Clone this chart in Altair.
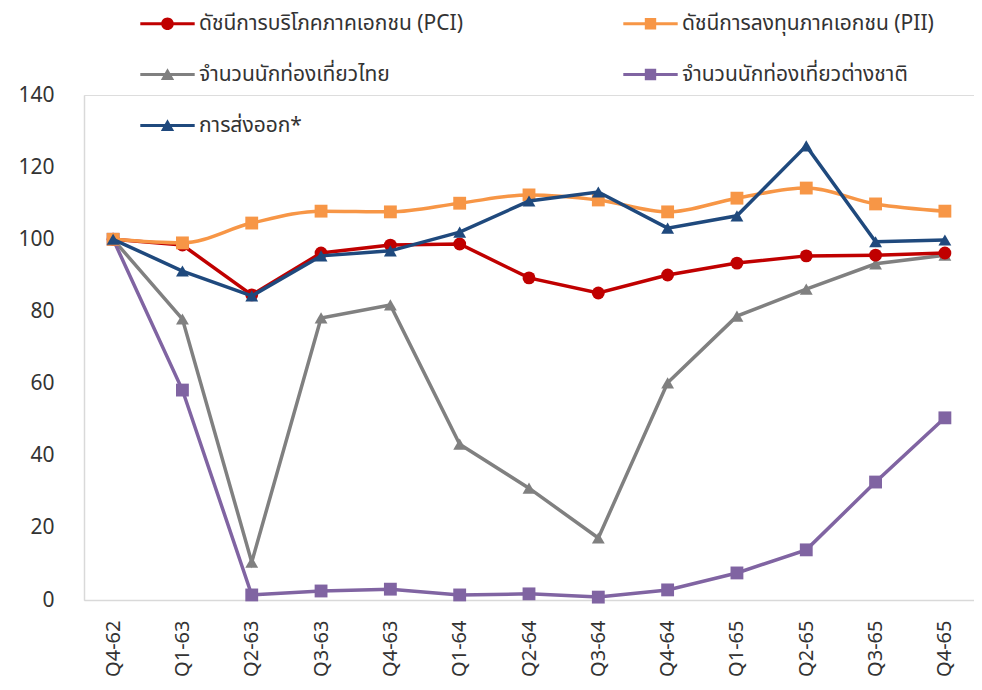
import altair as alt
import pandas as pd

quarters = ["Q4-62", "Q1-63", "Q2-63", "Q3-63", "Q4-63", "Q1-64", "Q2-64",
            "Q3-64", "Q4-64", "Q1-65", "Q2-65", "Q3-65", "Q4-65"]

pci = [100, 98.4, 84.6, 96.2, 98.4, 98.7, 89.3, 85.1, 90.1, 93.4, 95.4, 95.6, 96.2]
pii = [100, 99.0, 104.5, 107.8, 107.6, 110.0, 112.3, 110.9, 107.6, 111.4, 114.2, 109.8, 107.8]
thai = [100, 77.9, 10.5, 78.2, 81.8, 43.2, 31.0, 17.2, 60.2, 78.7, 86.2, 93.2, 95.6]
foreign = [100, 58.2, 1.4, 2.5, 3.0, 1.4, 1.7, 0.8, 2.8, 7.5, 13.9, 32.7, 50.5]
exports = [100, 91.2, 84.3, 95.4, 96.8, 102.0, 110.6, 113.1, 103.1, 106.5, 125.9, 99.3, 99.8]

series_names = [
    "ดัชนีการบริโภคภาคเอกชน (PCI)",
    "ดัชนีการลงทุนภาคเอกชน (PII)",
    "จำนวนนักท่องเที่ยวไทย",
    "จำนวนนักท่องเที่ยวต่างชาติ",
    "การส่งออก*",
]
series_values = [pci, pii, thai, foreign, exports]
colors = ["#C00000", "#F79646", "#808080", "#8064A2", "#1F497D"]
shapes = ["circle", "square", "triangle-up", "square", "triangle-up"]
interp = ["linear", "monotone", "linear", "linear", "linear"]
draw_order = [2, 3, 0, 1, 4]
# legend fills column by column: left column PCI, Thai, exports; right column PII, foreign
legend_order = [0, 2, 4, 1, 3]

FONT = "Noto Sans Thai, Noto Sans, sans-serif"
TEXT = "#333333"
AXIS = "#D9D9D9"

bar = "M-4.3,-0.24H4.3V0.24H-4.3Z "
marker_paths = {
    "circle": "M1,0A1,1 0 1,1 -1,0A1,1 0 1,1 1,0Z",
    "square": "M-0.9,-0.9H0.9V0.9H-0.9Z",
    "triangle-up": "M0,-1L1.05,0.85H-1.05Z",
}

x_enc = alt.X(
    "quarter:N", sort=quarters,
    scale=alt.Scale(type="point", padding=0.42),
    axis=alt.Axis(title=None, labelAngle=-90, ticks=False, domainColor=AXIS,
                  domainWidth=1.5, labelFontSize=20, labelPadding=20,
                  labelColor=TEXT, labelFont=FONT),
)
y_enc = alt.Y(
    "value:Q", scale=alt.Scale(domain=[0, 140], nice=False),
    axis=alt.Axis(title=None, values=list(range(0, 141, 20)), grid=False,
                  ticks=False, domainColor=AXIS, domainWidth=1.5,
                  labelFontSize=21, labelPadding=30, labelColor=TEXT,
                  labelFont=FONT),
)

layers = []
for i in draw_order:
    df = pd.DataFrame({"quarter": quarters, "value": series_values[i]})
    base = alt.Chart(df).encode(x=x_enc, y=y_enc)
    layers.append(base.mark_line(color=colors[i], strokeWidth=3.5,
                                 interpolate=interp[i]))
    layers.append(base.mark_point(color=colors[i], filled=True, opacity=1,
                                  shape=shapes[i], size=165))

leg_names = [series_names[i] for i in legend_order]
leg_colors = [colors[i] for i in legend_order]
leg_paths = [bar + marker_paths[shapes[i]] for i in legend_order]

leg = alt.Legend(
    title=None, orient="none", legendX=58, legendY=-82, columns=2,
    symbolSize=160, symbolOffset=15, labelOffset=21, labelFontSize=21,
    labelLimit=2000, labelFont=FONT, labelColor=TEXT, rowPadding=29,
    columnPadding=160, padding=0, symbolStrokeWidth=0, symbolOpacity=1,
)
legend_df = pd.DataFrame({"series": leg_names})
legend_layer = alt.Chart(legend_df).mark_point(filled=True, opacity=1).encode(
    color=alt.Color("series:N", sort=leg_names,
                    scale=alt.Scale(domain=leg_names, range=leg_colors), legend=leg),
    shape=alt.Shape("series:N", sort=leg_names,
                    scale=alt.Scale(domain=leg_names, range=leg_paths), legend=leg),
).transform_filter("false")

chart = alt.layer(*layers, legend_layer).properties(
    width=890, height=505,
    autosize=alt.AutoSizeParams(type="none"),
    padding={"left": 76, "top": 87, "right": 0, "bottom": 86},
).configure_view(stroke=None).configure(background="white")

chart.save("out.html", embed_options={"renderer": "svg", "actions": False})
